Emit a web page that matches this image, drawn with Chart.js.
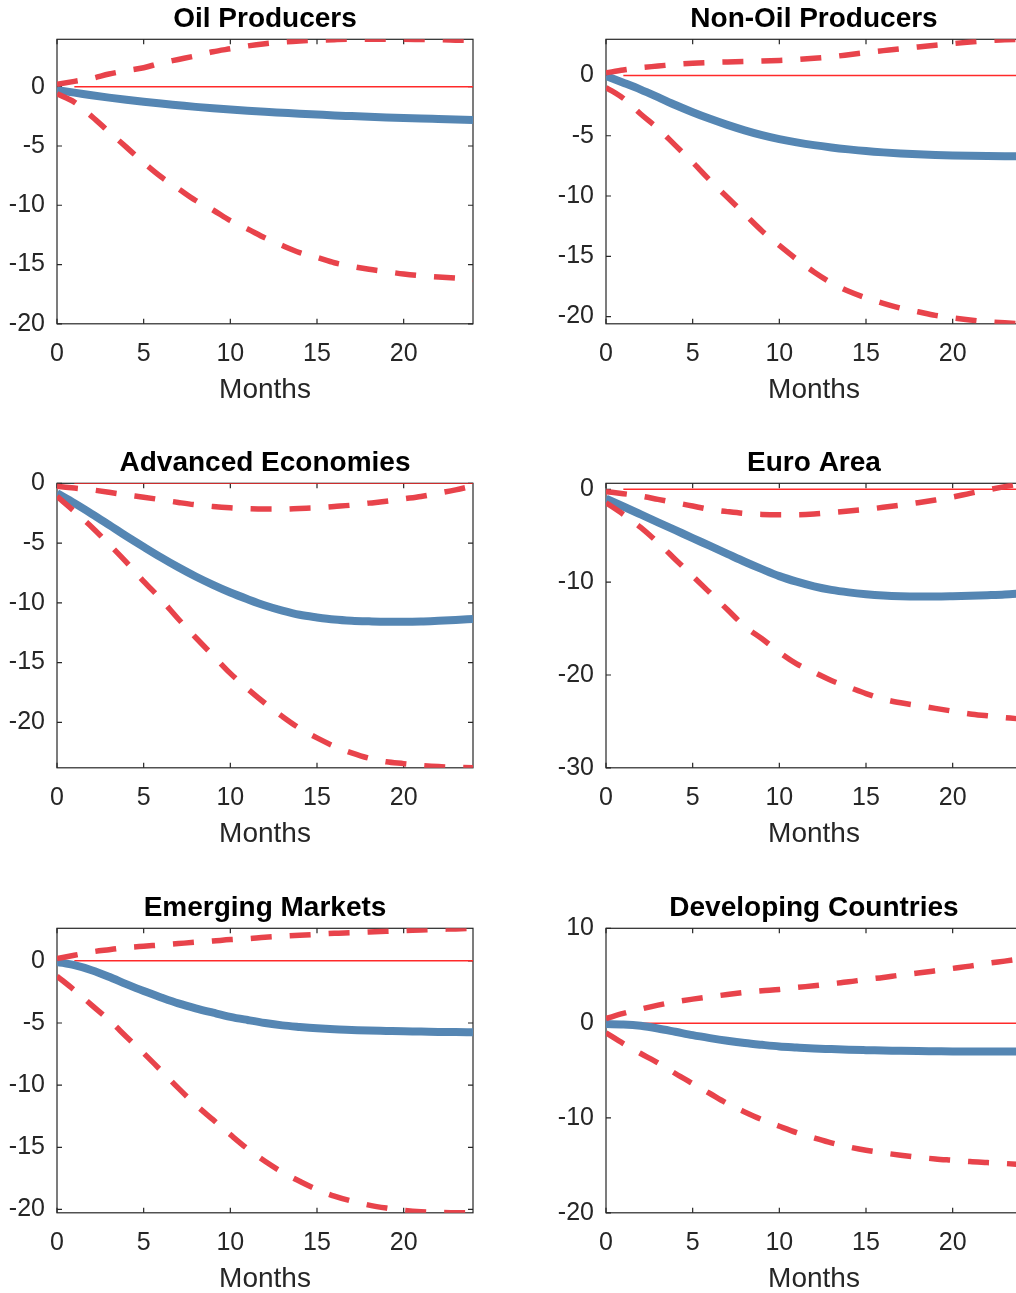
<!DOCTYPE html>
<html>
<head>
<meta charset="utf-8">
<title>Impulse responses by country group</title>
<script src="https://cdn.jsdelivr.net/npm/chart.js@4.4.1/dist/chart.umd.min.js"></script>
<style>
  html, body { margin: 0; padding: 0; background: #ffffff; width: 1016px; height: 1293px; overflow: hidden; position: relative; }
  canvas { position: absolute; }
</style>
</head>
<body>
<canvas id="c0" width="490" height="421" style="left:0px;top:0px"></canvas>
<canvas id="c1" width="490" height="421" style="left:549px;top:0px"></canvas>
<canvas id="c2" width="490" height="421" style="left:0px;top:444px"></canvas>
<canvas id="c3" width="490" height="421" style="left:549px;top:444px"></canvas>
<canvas id="c4" width="490" height="421" style="left:0px;top:889px"></canvas>
<canvas id="c5" width="490" height="421" style="left:549px;top:889px"></canvas>
<script>
// Horizon (months after the shock) and shared x tick labels
const months = [0,1,2,3,4,5,6,7,8,9,10,11,12,13,14,15,16,17,18,19,20,21,22,23,24];
const xTicks = [0, 5, 10, 15, 20];
// Reference line at zero, drawn from month 1 to 24
const zeroLine = [[1, 0], [24, 0]];

// Oil Producers
const oilMedian = [-0.3,-0.5,-0.72,-0.92,-1.1,-1.27,-1.42,-1.56,-1.7,-1.82,-1.93,-2.03,-2.12,-2.2,-2.28,-2.35,-2.42,-2.48,-2.54,-2.59,-2.63,-2.68,-2.72,-2.76,-2.8];
const oilUpper  = [0.2,0.45,0.7,1.07,1.35,1.6,2.0,2.3,2.6,2.95,3.2,3.44,3.63,3.77,3.86,3.92,3.97,4.0,4.0,4.0,4.0,3.98,3.96,3.93,3.9];
const oilLower  = [-0.6,-1.3,-2.5,-3.8,-5.1,-6.4,-7.6,-8.6,-9.6,-10.4,-11.3,-12.0,-12.75,-13.4,-14.0,-14.4,-14.85,-15.15,-15.4,-15.6,-15.8,-15.95,-16.05,-16.15,-16.25];
const oilYTicks = [-20, -15, -10, -5, 0];

// Non-Oil Producers
const nonOilMedian = [-0.05,-0.6,-1.17,-1.8,-2.45,-3.05,-3.6,-4.1,-4.55,-4.95,-5.28,-5.55,-5.78,-5.97,-6.13,-6.27,-6.38,-6.47,-6.54,-6.6,-6.64,-6.67,-6.69,-6.7,-6.7];
const nonOilUpper  = [0.22,0.45,0.65,0.78,0.92,1.02,1.08,1.12,1.16,1.2,1.25,1.32,1.42,1.55,1.72,1.9,2.06,2.22,2.37,2.5,2.64,2.77,2.88,2.97,3.0];
const nonOilLower  = [-1.0,-1.9,-3.2,-4.4,-5.8,-7.2,-8.7,-10.1,-11.5,-12.9,-14.1,-15.25,-16.3,-17.2,-17.9,-18.45,-18.9,-19.3,-19.6,-19.9,-20.1,-20.28,-20.42,-20.52,-20.6];
const nonOilYTicks = [-20, -15, -10, -5, 0];

// Advanced Economies
const advMedian = [-0.83,-1.66,-2.55,-3.48,-4.42,-5.32,-6.2,-7.03,-7.8,-8.5,-9.14,-9.7,-10.22,-10.65,-11.0,-11.22,-11.4,-11.5,-11.55,-11.58,-11.58,-11.56,-11.5,-11.43,-11.35];
const advUpper  = [-0.25,-0.4,-0.55,-0.75,-0.97,-1.16,-1.38,-1.6,-1.8,-1.94,-2.05,-2.13,-2.16,-2.16,-2.1,-2.05,-1.94,-1.83,-1.66,-1.5,-1.3,-1.1,-0.83,-0.55,-0.22];
const advLower  = [-1.1,-2.35,-3.65,-5.1,-6.6,-8.2,-9.7,-11.35,-12.9,-14.4,-15.9,-17.2,-18.4,-19.5,-20.5,-21.3,-22.0,-22.55,-23.0,-23.3,-23.45,-23.6,-23.7,-23.75,-23.8];
const advYTicks = [-20, -15, -10, -5, 0];

// Euro Area
const euroMedian = [-1.0,-1.85,-2.7,-3.55,-4.4,-5.25,-6.1,-6.95,-7.8,-8.6,-9.35,-9.95,-10.45,-10.83,-11.1,-11.3,-11.44,-11.52,-11.55,-11.55,-11.52,-11.47,-11.4,-11.32,-11.2];
const euroUpper  = [-0.25,-0.47,-0.72,-1.08,-1.44,-1.8,-2.16,-2.4,-2.6,-2.7,-2.73,-2.73,-2.66,-2.5,-2.34,-2.16,-1.94,-1.7,-1.44,-1.15,-0.83,-0.43,-0.07,0.29,0.65];
const euroLower  = [-1.44,-2.7,-4.1,-5.75,-7.55,-9.35,-11.15,-12.95,-14.75,-16.1,-17.55,-18.8,-19.7,-20.6,-21.3,-22.0,-22.6,-23.0,-23.3,-23.6,-23.9,-24.2,-24.4,-24.6,-24.75];
const euroYTicks = [-30, -20, -10, 0];

// Emerging Markets
const emMedian = [-0.08,-0.35,-0.75,-1.28,-1.87,-2.43,-2.94,-3.42,-3.82,-4.17,-4.5,-4.76,-5.0,-5.19,-5.32,-5.43,-5.51,-5.56,-5.61,-5.64,-5.67,-5.69,-5.72,-5.73,-5.75];
const emUpper  = [0.19,0.45,0.72,0.9,1.07,1.18,1.28,1.39,1.5,1.6,1.71,1.79,1.9,1.98,2.06,2.14,2.22,2.27,2.33,2.38,2.43,2.49,2.54,2.57,2.62];
const emLower  = [-1.23,-2.35,-3.56,-4.76,-6.1,-7.43,-8.82,-10.24,-11.58,-12.78,-13.98,-15.13,-16.12,-17.0,-17.73,-18.4,-18.93,-19.33,-19.65,-19.89,-20.08,-20.19,-20.24,-20.27,-20.27];
const emYTicks = [-20, -15, -10, -5, 0];

// Developing Countries
const devMedian = [-0.1,-0.14,-0.28,-0.56,-0.91,-1.27,-1.58,-1.86,-2.1,-2.29,-2.46,-2.57,-2.67,-2.74,-2.81,-2.85,-2.88,-2.92,-2.95,-2.97,-2.99,-3.0,-3.0,-3.0,-3.0];
const devUpper  = [0.49,1.02,1.48,1.9,2.25,2.53,2.78,3.02,3.24,3.41,3.55,3.76,3.94,4.15,4.36,4.61,4.82,5.07,5.28,5.52,5.77,6.01,6.3,6.54,6.79];
const devLower  = [-1.02,-2.15,-3.2,-4.19,-5.31,-6.37,-7.42,-8.48,-9.36,-10.17,-10.87,-11.54,-12.1,-12.63,-13.05,-13.4,-13.68,-13.93,-14.14,-14.32,-14.46,-14.6,-14.7,-14.8,-14.91];
const devYTicks = [-20, -10, 0, 10];

const panels = [
  { id: 'c0', title: 'Oil Producers',        median: oilMedian,    upper: oilUpper,    lower: oilLower,    yTicks: oilYTicks,    yMin: -20,    yMax: 4 },
  { id: 'c1', title: 'Non-Oil Producers',    median: nonOilMedian, upper: nonOilUpper, lower: nonOilLower, yTicks: nonOilYTicks, yMin: -20.6,  yMax: 3 },
  { id: 'c2', title: 'Advanced Economies',   median: advMedian,    upper: advUpper,    lower: advLower,    yTicks: advYTicks,    yMin: -23.8,  yMax: 0 },
  { id: 'c3', title: 'Euro Area',            median: euroMedian,   upper: euroUpper,   lower: euroLower,   yTicks: euroYTicks,   yMin: -30,    yMax: 0.65 },
  { id: 'c4', title: 'Emerging Markets',     median: emMedian,     upper: emUpper,     lower: emLower,     yTicks: emYTicks,     yMin: -20.27, yMax: 2.62 },
  { id: 'c5', title: 'Developing Countries', median: devMedian,    upper: devUpper,    lower: devLower,    yTicks: devYTicks,    yMin: -20,    yMax: 10 }
];

const FONT = "'Liberation Sans', Arial, Helvetica, sans-serif";
const AXIS_COLOR = '#262626';
const BLUE = '#5586b3';
const BAND_RED = '#e8434b';
const ZERO_RED = '#ff2a2a';

// Boxed axes with inward tick marks on all four sides
const axesBox = {
  id: 'axesBox',
  beforeDatasetsDraw(chart) {
    const { ctx, chartArea: a, scales: { x, y } } = chart;
    const len = 5;
    ctx.save();
    ctx.strokeStyle = AXIS_COLOR;
    ctx.lineWidth = 1.2;
    ctx.strokeRect(a.left, a.top, a.right - a.left, a.bottom - a.top);
    ctx.beginPath();
    x.ticks.forEach(t => {
      const px = x.getPixelForValue(t.value);
      ctx.moveTo(px, a.bottom); ctx.lineTo(px, a.bottom - len);
      ctx.moveTo(px, a.top);    ctx.lineTo(px, a.top + len);
    });
    y.ticks.forEach(t => {
      const py = y.getPixelForValue(t.value);
      ctx.moveTo(a.left, py);  ctx.lineTo(a.left + len, py);
      ctx.moveTo(a.right, py); ctx.lineTo(a.right - len, py);
    });
    ctx.stroke();
    ctx.restore();
  }
};

const toPoints = arr => months.map((m, i) => ({ x: m, y: arr[i] }));

const bandStyle = { borderColor: BAND_RED, borderWidth: 5.5, borderDash: [21, 18], borderCapStyle: 'butt', pointRadius: 0, fill: false, cubicInterpolationMode: 'monotone' };
const medianStyle = { borderColor: BLUE, borderWidth: 8, borderJoinStyle: 'round', borderCapStyle: 'butt', pointRadius: 0, fill: false, cubicInterpolationMode: 'monotone' };

panels.forEach(p => {
  new Chart(document.getElementById(p.id), {
    type: 'line',
    data: {
      datasets: [
        Object.assign({ data: toPoints(p.upper) }, bandStyle),
        Object.assign({ data: toPoints(p.lower) }, bandStyle),
        Object.assign({ data: toPoints(p.median) }, medianStyle),
        { data: zeroLine.map(([x, y]) => ({ x, y })), borderColor: ZERO_RED, borderWidth: 1.5, pointRadius: 0, fill: false }
      ]
    },
    options: {
      responsive: false,
      animation: false,
      devicePixelRatio: 1,
      events: [],
      layout: { padding: { left: 0, right: 17, top: 0, bottom: 0 } },
      plugins: {
        legend: { display: false },
        tooltip: { enabled: false },
        title: {
          display: true,
          text: p.title,
          fullSize: false,
          color: '#000000',
          font: { family: FONT, size: 28, weight: 'bold', lineHeight: 1.2 },
          padding: { top: 2.8, bottom: 2.9 }
        }
      },
      scales: {
        x: {
          type: 'linear',
          min: 0,
          max: 24,
          afterBuildTicks: ax => { ax.ticks = xTicks.map(v => ({ value: v })); },
          afterFit: ax => { ax.height = 97.2; },
          grid: { display: false, drawTicks: false },
          border: { display: false },
          ticks: { color: AXIS_COLOR, font: { family: FONT, size: 25 }, padding: 15.3, maxRotation: 0, autoSkip: false },
          title: { display: true, text: 'Months', color: AXIS_COLOR, font: { family: FONT, size: 28, lineHeight: 1.2 }, padding: { top: 0, bottom: 14.4 } }
        },
        y: {
          type: 'linear',
          min: p.yMin,
          max: p.yMax,
          afterBuildTicks: ax => { ax.ticks = p.yTicks.map(v => ({ value: v })); },
          afterFit: ax => { ax.width = 57; },
          grid: { display: false, drawTicks: false },
          border: { display: false },
          ticks: { color: AXIS_COLOR, font: { family: FONT, size: 25 }, padding: 12, autoSkip: false }
        }
      }
    },
    plugins: [axesBox]
  });
});
</script>
</body>
</html>
